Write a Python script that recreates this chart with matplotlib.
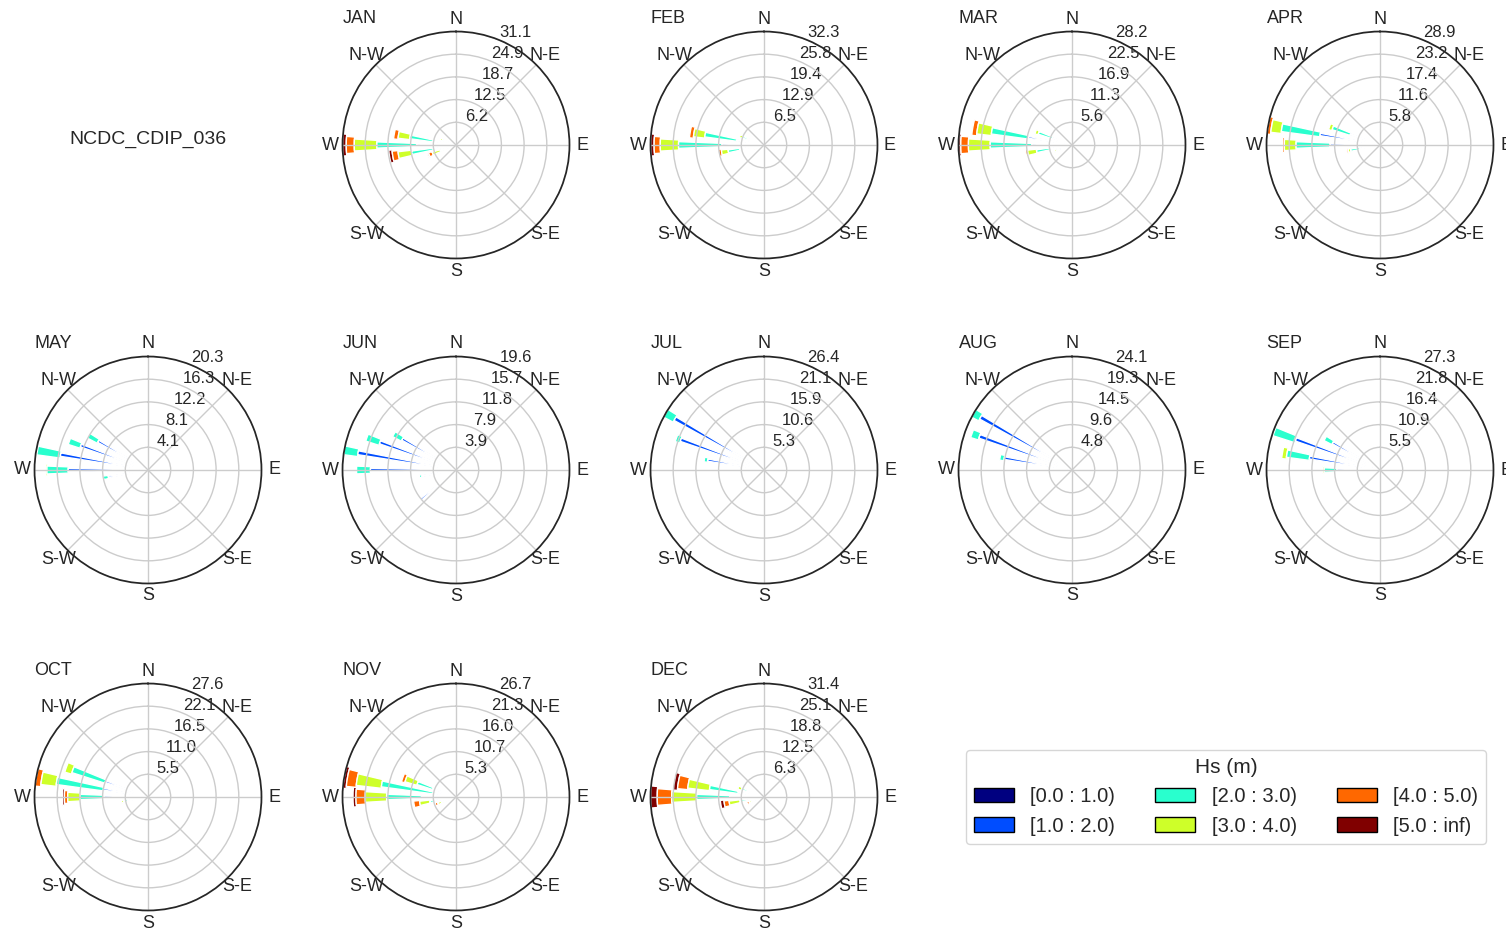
import numpy as np
import matplotlib
matplotlib.use("Agg")
import matplotlib.pyplot as plt
from matplotlib.patches import Rectangle

# Monthly wave roses at station NCDC_CDIP_036.
# Rows: significant wave height classes, columns: direction sectors (deg, coming from).
# Values are percentage of time.
station = "NCDC_CDIP_036"
months = ["JAN", "FEB", "MAR", "APR", "MAY", "JUN",
          "JUL", "AUG", "SEP", "OCT", "NOV", "DEC"]
directions = [230, 240, 250, 260, 270, 280, 290, 300]
hs_edges = [0.0, 1.0, 2.0, 3.0, 4.0, 5.0]

jan = [[0, 0, 0.5, 1.0, 2.0, 1.0, 0.3, 0],
       [0, 0, 2.0, 5.3, 8.8, 5.3, 2.0, 0],
       [0, 0, 2.0, 6.0, 10.9, 6.5, 1.5, 0],
       [0, 0, 2.3, 3.7, 6.2, 3.2, 0.8, 0],
       [0, 0, 1.0, 1.6, 2.2, 1.2, 0, 0],
       [0, 0, 0.4, 0.9, 1.03, 0, 0, 0]]
feb = [[0, 0, 0.3, 1.0, 2.0, 1.0, 0.5, 0],
       [0, 0, 1.5, 5.9, 10.0, 6.9, 4.0, 0],
       [0, 0, 0.6, 3.4, 12.3, 9.1, 2.0, 0],
       [0, 0, 0.3, 1.9, 5.2, 3.2, 0.8, 0],
       [0, 0, 0.2, 0.8, 1.75, 1.1, 0, 0],
       [0, 0, 0.1, 0, 1.03, 0, 0, 0]]
mar = [[0, 0, 0.5, 1.0, 2.0, 2.0, 0.5, 0],
       [0, 0, 2.5, 4.5, 8.0, 9.0, 4.5, 0],
       [0, 0, 1.0, 3.4, 10.3, 9.2, 3.8, 0],
       [0, 0, 0.6, 2.2, 5.4, 3.6, 0.8, 0],
       [0, 0, 0, 0.5, 1.9, 1.2, 0, 0],
       [0, 0, 0, 0, 0.57, 0, 0, 0]]
apr = [[0, 0, 0, 0.5, 2.0, 1.5, 1.0, 0],
       [0, 0, 0, 4.7, 10.7, 14.0, 7.0, 0],
       [0, 0, 0, 2.4, 8.7, 9.9, 4.8, 0],
       [0, 0, 0, 0.6, 3.0, 2.645, 0.9, 0],
       [0, 0, 0, 0.4, 0.5, 0.9, 0, 0]]
may = [[0, 0, 0, 0.5, 1.5, 1.5, 1.0, 1.0],
       [0, 0, 0, 6.7, 12.8, 14.4, 11.8, 9.3],
       [0, 0, 0, 0.9, 3.8, 4.2, 2.2, 2.0],
       [0, 0, 0, 0, 0.3, 0.23, 0, 0]]
jun = [[1.0, 0, 0, 0.5, 1.0, 1.5, 1.0, 1.0],
       [7.0, 0, 0, 5.5, 13.8, 15.7, 13.0, 9.7],
       [0, 0, 0, 0.4, 2.4, 2.435, 2.4, 1.7]]
jul = [[0, 0, 0, 0, 0, 1.0, 1.5, 2.0],
       [0, 0, 0, 0, 0, 12.3, 19.1, 21.9],
       [0, 0, 0, 0, 0, 0.8, 1.1, 2.525]]
aug = [[0, 0, 0, 0, 0, 1.0, 1.5, 2.0],
       [0, 0, 0, 0, 0, 13.6, 19.4, 20.4],
       [0, 0, 0, 0, 0, 0.9, 1.7, 1.7]]
sep = [[0, 0, 0, 0, 1.0, 1.5, 2.0, 1.0],
       [0, 0, 0, 0, 9.4, 15.7, 19.5, 12.1],
       [0, 0, 0, 0, 3.0, 5.5, 5.5, 2.1],
       [0, 0, 0, 0, 0.4, 1.1, 0.28, 0]]
oct_ = [[0, 0, 0, 0.5, 1.5, 1.5, 1.0, 0],
        [0, 0, 0, 4.5, 9.3, 9.5, 10.0, 0],
        [0, 0, 0, 1.0, 5.7, 11.5, 8.4, 0],
        [0, 0, 0, 0.5, 3.0, 3.7, 1.7, 0],
        [0, 0, 0, 0, 0.8, 1.37, 0, 0],
        [0, 0, 0, 0, 0.5, 0, 0, 0]]
nov = [[0, 0, 0.5, 0.5, 1.0, 1.0, 0.5, 0],
       [0, 0, 2.0, 4.5, 7.1, 4.4, 5.2, 0],
       [0, 0, 1.0, 1.2, 8.2, 12.3, 3.9, 0],
       [0, 0, 1.0, 2.4, 5.0, 5.9, 2.9, 0],
       [0, 0, 0.6, 1.4, 2.2, 2.3, 0.8, 0],
       [0, 0, 0.1, 0, 0.7, 0.77, 0, 0]]
dec = [[0, 0, 0.5, 0.5, 2.0, 1.0, 0.5, 0],
       [0, 0, 2.0, 4.0, 7.4, 6.2, 4.0, 0],
       [0, 0, 1.0, 2.2, 9.2, 8.0, 2.0, 0],
       [0, 0, 0.8, 3.0, 6.9, 6.0, 1.1, 0],
       [0, 0, 0.7, 1.4, 4.0, 2.8, 0, 0],
       [0, 0, 0, 1.0, 1.86, 1.3, 0, 0]]

tables = [jan, feb, mar, apr, may, jun, jul, aug, sep, oct_, nov, dec]

DARK = "0.15"
plt.rcParams.update({
    "font.family": ["Liberation Sans", "DejaVu Sans"],
    "text.color": DARK,
    "xtick.color": DARK,
    "ytick.color": DARK,
    "axes.edgecolor": DARK,
    "axes.linewidth": 1.25,
    "grid.color": "0.8",
    "grid.linewidth": 1.0,
    "grid.linestyle": "-",
    "axes.axisbelow": True,
})

W, H, DPI = 1506, 930, 100
fig = plt.figure(figsize=(W / DPI, H / DPI), dpi=DPI)
fig.patch.set_facecolor("white")

R = 113.5
col_x = [148, 456, 764, 1072, 1380]
row_y = [145, 470, 797]
slots = ([(0, c) for c in range(1, 5)]
         + [(1, c) for c in range(5)]
         + [(2, c) for c in range(3)])

n_bins = len(hs_edges)
colors = [plt.cm.jet(v) for v in np.linspace(0.0, 1.0, n_bins)]
# proportional boxes: the opening grows with the wave height class
openings = np.linspace(0.0, np.pi / 16, n_bins)
theta_labels = ["N", "N-E", "E", "S-E", "S", "S-W", "W", "N-W"]


def full_table(rows):
    t = np.zeros((n_bins, len(directions)))
    t[:len(rows)] = np.array(rows, dtype=float)
    return t


for month, rows, (r, c) in zip(months, tables, slots):
    cx, cy = col_x[c], row_y[r]
    ax = fig.add_axes([(cx - R) / W, 1 - (cy + R) / H, 2 * R / W, 2 * R / H],
                      projection="polar")
    ax.set_theta_zero_location("N")
    ax.set_theta_direction(-1)
    table = full_table(rows)
    for j, d in enumerate(directions):
        offset = 0.0
        for i in range(n_bins):
            val = table[i, j]
            if val > 0 and openings[i] > 0:
                ax.bar(np.deg2rad(d), val, width=openings[i], bottom=offset,
                       align="center", color=colors[i], edgecolor="white",
                       linewidth=1.0, zorder=-1000 + n_bins - i)
            offset += val
    rmax = table.sum(axis=0).max()
    ax.set_ylim(0, rmax)
    radii = np.linspace(0, rmax, 6)[1:]
    ax.set_rgrids(radii, ["%.1f" % v for v in radii], angle=22.5, fontsize=12)
    ax.set_thetagrids(np.arange(0, 360, 45), theta_labels, fontsize=13)
    ax.tick_params(axis="x", length=0, pad=2)
    ax.tick_params(axis="y", length=0)
    ax.grid(True)
    ax.set_title(month, loc="left", fontsize=13, y=1.0, pad=6)

fig.text(col_x[0] / W, 1 - 139 / H, station, ha="center", va="center",
         fontsize=14)

handles = [Rectangle((0, 0), 1, 1, facecolor=colors[i], edgecolor="black")
           for i in range(n_bins)]
labels = ["[%.1f : %.1f)" % (hs_edges[i], hs_edges[i + 1])
          for i in range(n_bins - 1)] + ["[%.1f : inf)" % hs_edges[-1]]
fig.legend(handles, labels, title="Hs (m)", ncol=3, loc="center",
           bbox_to_anchor=(1226 / W, 1 - 797 / H), fontsize=14.5,
           title_fontsize=15, frameon=True, edgecolor="0.8", fancybox=True)

fig.savefig("out.png", dpi=DPI, facecolor="white")
